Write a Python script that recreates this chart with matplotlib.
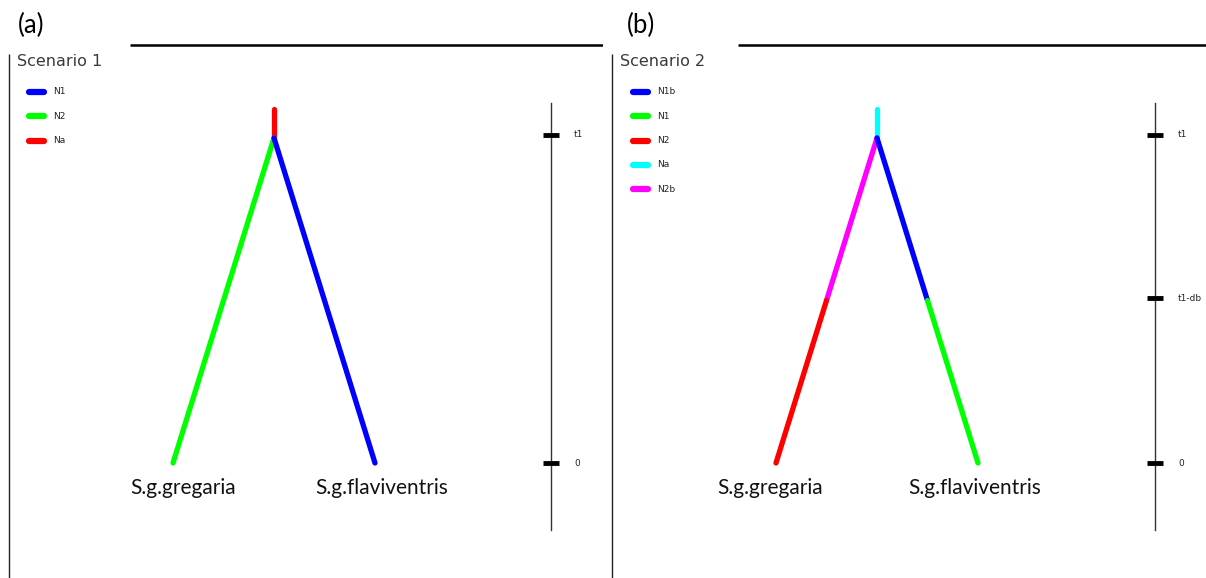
import matplotlib
matplotlib.use("Agg")
import matplotlib.pyplot as plt

W, H = 1206, 578
DPI = 100

# ---- data ----
panel_labels = ["(a)", "(b)"]
scenario_titles = ["Scenario 1", "Scenario 2"]
leaf_names = ["S.g.gregaria", "S.g.flaviventris"]
leaf_pos = [0.0, 1.0]           # left / right leaf positions
t1 = 1.0
root_top = 1.09
db_time = 0.5                   # time of t1-db

# scenario 1
s1_legend = ["N1", "N2", "Na"]
s1_colors = {"N1": "#0000ff", "N2": "#00ff00", "Na": "#ff0000"}
# segments: (pop, x0, y0, x1, y1) in tree coords
s1_segments = [
    ("Na", 0.5, t1, 0.5, root_top),
    ("N2", 0.5, t1, leaf_pos[0], 0.0),
    ("N1", 0.5, t1, leaf_pos[1], 0.0),
]
s1_ticks = [1.01, 0.0]
s1_tick_labels = ["t1", "0"]

# scenario 2
s2_legend = ["N1b", "N1", "N2", "Na", "N2b"]
s2_colors = {"N1b": "#0000ff", "N1": "#00ff00", "N2": "#ff0000",
             "Na": "#00ffff", "N2b": "#ff00ff"}
s2_segments = [
    ("Na", 0.5, t1, 0.5, root_top),
    ("N2b", 0.5, t1, 0.25, db_time),
    ("N2", 0.25, db_time, leaf_pos[0], 0.0),
    ("N1b", 0.5, t1, 0.75, db_time),
    ("N1", 0.75, db_time, leaf_pos[1], 0.0),
]
s2_ticks = [1.01, 0.507, 0.0]
s2_tick_labels = ["t1", "t1-db", "0"]

panels = [
    dict(legend=s1_legend, colors=s1_colors, segs=s1_segments,
         ticks=s1_ticks, tlabels=s1_tick_labels, leaf_dx=[0.05, 0.035],
         lab_x=18, leg_x=27),
    dict(legend=s2_legend, colors=s2_colors, segs=s2_segments,
         ticks=s2_ticks, tlabels=s2_tick_labels, leaf_dx=[-0.03, -0.015],
         lab_x=24, leg_x=28),
]

# pixel mapping (layout)
PX_X = 202.0   # pixels per leaf unit
PX_Y = 325.0   # pixels per time unit
LEAF0_PX = [173, 776]
LEAF_Y_PX = 463
PANEL_X0 = [0, 603]
PANEL_W = 603

fig = plt.figure(figsize=(W / DPI, H / DPI), dpi=DPI)

for i, p in enumerate(panels):
    x0 = PANEL_X0[i]
    ax = fig.add_axes([x0 / W, 0, PANEL_W / W, 1])
    ax.set_axis_off()
    lx = LEAF0_PX[i]
    ax.set_xlim((x0 - lx) / PX_X, (x0 + PANEL_W - lx) / PX_X)
    ax.set_ylim(-(H - LEAF_Y_PX) / PX_Y, LEAF_Y_PX / PX_Y)

    def px(xp):  # panel-pixel x -> data
        return (x0 + xp - lx) / PX_X

    def py(yp):
        return (LEAF_Y_PX - yp) / PX_Y

    # frame lines
    ax.plot([px(9), px(9)], [py(54), py(H)], color="#222222", lw=1.0,
            solid_capstyle="butt")
    topx0 = 130 if i == 0 else 135
    ax.plot([px(topx0), px(PANEL_W)], [py(45.5), py(45.5)], color="black",
            lw=1.8, solid_capstyle="butt")

    # panel label
    ax.text(px(p["lab_x"]), py(25), panel_labels[i], fontsize=18.5,
            family="Lato", ha="left", va="center", color="black")
    ax.text(px(17), py(62), scenario_titles[i], fontsize=11.5,
            family="DejaVu Sans", ha="left", va="center", color="#3a3a3a")

    # legend
    for k, name in enumerate(p["legend"]):
        yy = py(92 + 24.3 * k)
        lx0 = p["leg_x"]
        ax.plot([px(lx0 + 2), px(lx0 + 17)], [yy, yy],
                color=p["colors"][name], lw=4.5, solid_capstyle="round")
        ax.text(px(lx0 + 26), yy, name, fontsize=6.5, family="DejaVu Sans",
                ha="left", va="center", color="#222222")

    # tree
    for name, xa, ya, xb, yb in p["segs"]:
        ax.plot([xa, xb], [ya, yb], color=p["colors"][name], lw=3.8,
                solid_capstyle="round")

    # leaf labels
    for k, nm in enumerate(leaf_names):
        ax.text(leaf_pos[k] + p["leaf_dx"][k], py(488), nm, fontsize=15,
                family="Lato", ha="center", va="center", color="#111111")

    # time axis
    tx = px(551) if i == 0 else px(552)
    ax.plot([tx, tx], [py(103), py(530)], color="#333333", lw=1.0)
    for tv, tl in zip(p["ticks"], p["tlabels"]):
        ax.plot([tx - 8 / PX_X, tx + 8 / PX_X], [tv, tv], color="black",
                lw=3.5, solid_capstyle="butt")
        ax.text(tx + 23 / PX_X, tv, tl, fontsize=6.5, family="DejaVu Sans",
                ha="left", va="center", color="#222222")

fig.savefig("out.png", dpi=DPI)
